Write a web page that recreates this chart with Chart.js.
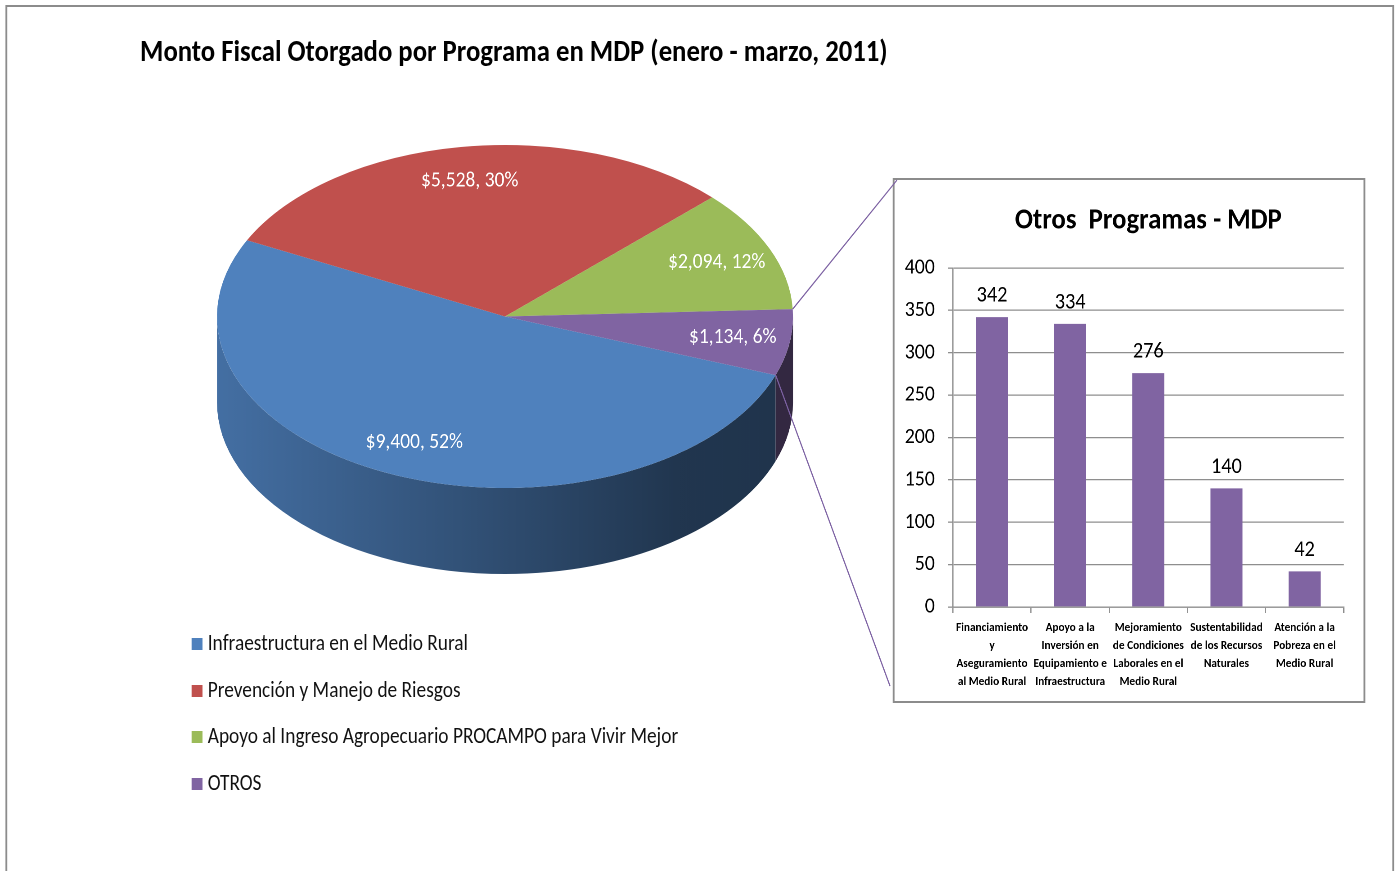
<!DOCTYPE html>
<html>
<head>
<meta charset="utf-8">
<script src="https://cdn.jsdelivr.net/npm/chart.js@4.4.0/dist/chart.umd.min.js"></script>
<style>
  html, body { margin: 0; padding: 0; background: #fff; overflow: hidden; }
  body { width: 1397px; height: 871px; position: relative; font-family: Carlito, Lato, sans-serif; }
  /* the reference is a horizontally compressed rendering; lay out wide, then compress */
  #stage { position: absolute; left: 0; top: 0; width: 1552.2px; height: 871px; transform: scaleX(0.9); transform-origin: 0 0; }
  #frame { position: absolute; left: 5.5px; top: 5px; width: 1543px; height: 900px; border: 2px solid #8c8c8c; box-sizing: border-box; }
  #title { position: absolute; left: 155.6px; top: 37px; font-size: 29.7px; line-height: 29.7px; font-weight: bold; color: #000; white-space: nowrap; }
  #pieWrap { position: absolute; left: 0; top: -20px; width: 1552.2px; height: 891px; }
  #barBox { position: absolute; left: 992.2px; top: 178px; width: 524.4px; height: 525px; border: 2px solid #8c8c8c; box-sizing: border-box; background: #fff; }
  #barWrap { position: absolute; left: 0; top: 0; width: 520.4px; height: 521px; }
  .li { position: absolute; left: 213.3px; font-size: 21.5px; line-height: 21.5px; color: #111; white-space: nowrap; }
  .sw { display: inline-block; width: 12px; height: 12px; margin-right: 5.5px; vertical-align: baseline; }
</style>
</head>
<body>
<div id="stage">
  <div id="frame"></div>
  <div id="title">Monto Fiscal Otorgado por Programa en MDP (enero - marzo, 2011)</div>
  <div id="legend"></div>
  <div id="barBox"><div id="barWrap"><canvas id="bar"></canvas></div></div>
  <div id="pieWrap"><canvas id="pie"></canvas></div>
</div>
<script>
// ---- data ----
const pieLabels = [
  'Infraestructura en el Medio Rural',
  'Prevención y Manejo de Riesgos',
  'Apoyo al Ingreso Agropecuario PROCAMPO para Vivir Mejor',
  'OTROS'
];
const pieValues = [9400, 5528, 2094, 1134];
const pieColors = ['#4f81bd', '#c0504d', '#9bbb59', '#8064a2'];

const barTitle = 'Otros  Programas - MDP';
const barLabels = [
  ['Financiamiento', 'y', 'Aseguramiento', 'al Medio Rural'],
  ['Apoyo a la', 'Inversión en', 'Equipamiento e', 'Infraestructura'],
  ['Mejoramiento', 'de Condiciones', 'Laborales en el', 'Medio Rural'],
  ['Sustentabilidad', 'de los Recursos', 'Naturales'],
  ['Atención a la', 'Pobreza en el', 'Medio Rural']
];
const barValues = [342, 334, 276, 140, 42];
const barColor = '#8064a2';
const yTicks = [0, 50, 100, 150, 200, 250, 300, 350, 400];

// ---- style constants ----
const FONT = "Carlito, Lato, sans-serif";
const TILT = 0.536;     // vertical squash of pie top face
const DEPTH = 86;       // thickness of pie side
const LINK_TOP = [996.7, 200];
const LINK_BOTTOM = [988.9, 706];
const LEGEND_BASE = 651, LEGEND_STEP = 46.7;

Chart.defaults.font.family = FONT;
Chart.defaults.color = '#000';

// legend (HTML)
const legendEl = document.getElementById('legend');
pieLabels.forEach((l, i) => {
  const row = document.createElement('div');
  row.className = 'li';
  row.style.top = (LEGEND_BASE + LEGEND_STEP * i - 18.1) + 'px';
  row.innerHTML = '<span class="sw" style="background:' + pieColors[i] + '"></span>' + l;
  legendEl.appendChild(row);
});

function shade(hex, f) {
  const n = parseInt(hex.slice(1), 16);
  const r = Math.round(((n >> 16) & 255) * f), g = Math.round(((n >> 8) & 255) * f), b = Math.round((n & 255) * f);
  return 'rgb(' + r + ',' + g + ',' + b + ')';
}

const pie3d = {
  id: 'pie3d',
  beforeDatasetsDraw(chart) {
    const meta = chart.getDatasetMeta(0);
    const a0 = meta.data[0];
    const cx = a0.x, cy = a0.y, r = a0.outerRadius, ry = r * TILT;
    const ctx = chart.ctx;
    ctx.save();
    meta.data.forEach((a, i) => {
      const s = a.startAngle, e = a.endAngle;
      for (let k = -1; k <= 2; k++) {
        const lo = Math.max(s, 2 * Math.PI * k), hi = Math.min(e, 2 * Math.PI * k + Math.PI);
        if (hi <= lo) continue;
        const g = ctx.createLinearGradient(cx - r, 0, cx + r, 0);
        g.addColorStop(0, shade(pieColors[i], 0.86));
        g.addColorStop(0.45, shade(pieColors[i], 0.62));
        g.addColorStop(0.8, shade(pieColors[i], 0.42));
        g.addColorStop(1, shade(pieColors[i], 0.4));
        ctx.beginPath();
        ctx.ellipse(cx, cy, r, ry, 0, lo, hi, false);
        ctx.lineTo(cx + r * Math.cos(hi), cy + DEPTH + ry * Math.sin(hi));
        ctx.ellipse(cx, cy + DEPTH, r, ry, 0, hi, lo, true);
        ctx.closePath();
        ctx.fillStyle = g;
        ctx.fill();
      }
    });
    ctx.translate(cx, cy);
    ctx.scale(1, TILT);
    ctx.translate(-cx, -cy);
  },
  afterDatasetsDraw(chart) {
    const ctx = chart.ctx;
    ctx.restore();
    const meta = chart.getDatasetMeta(0);
    const a0 = meta.data[0];
    const cx = a0.x, cy = a0.y, r = a0.outerRadius, ry = r * TILT;
    const total = pieValues.reduce((p, c) => p + c, 0);
    ctx.save();
    ctx.font = '21.7px ' + FONT;
    ctx.fillStyle = '#fff';
    ctx.textAlign = 'center';
    ctx.textBaseline = 'middle';
    meta.data.forEach((a, i) => {
      const m = (a.startAngle + a.endAngle) / 2;
      const x = cx + 0.8 * r * Math.cos(m), y = cy + 0.8 * ry * Math.sin(m);
      const txt = '$' + pieValues[i].toLocaleString('en-US') + ', ' + Math.round(pieValues[i] / total * 100) + '%';
      ctx.fillText(txt, x, y);
    });
    const o = meta.data[meta.data.length - 1];
    ctx.strokeStyle = '#7d62a3';
    ctx.lineWidth = 1.3;
    ctx.beginPath();
    ctx.moveTo(cx + r * Math.cos(o.startAngle), cy + ry * Math.sin(o.startAngle));
    ctx.lineTo(LINK_TOP[0], LINK_TOP[1]);
    ctx.moveTo(cx + r * Math.cos(o.endAngle), cy + ry * Math.sin(o.endAngle));
    ctx.lineTo(LINK_BOTTOM[0], LINK_BOTTOM[1]);
    ctx.stroke();
    ctx.restore();
  }
};

new Chart(document.getElementById('pie'), {
  type: 'pie',
  data: {
    labels: pieLabels,
    datasets: [{ data: pieValues, backgroundColor: pieColors, borderWidth: 0, hoverOffset: 0, offset: 0, clip: false }]
  },
  options: {
    responsive: true,
    maintainAspectRatio: false,
    devicePixelRatio: 2,
    animation: false,
    events: [],
    rotation: 110,
    radius: 320,
    layout: { padding: { left: 241.1, top: 16.5, right: 671.1, bottom: 234.5 } },
    plugins: { legend: { display: false }, tooltip: { enabled: false }, title: { display: false } }
  },
  plugins: [pie3d]
});

// value labels above bars + title centred over the plot area
const barExtras = {
  id: 'barExtras',
  afterDatasetsDraw(chart) {
    const ctx = chart.ctx;
    const meta = chart.getDatasetMeta(0);
    ctx.save();
    ctx.font = '22.5px ' + FONT;
    ctx.fillStyle = '#000';
    ctx.textAlign = 'center';
    ctx.textBaseline = 'alphabetic';
    meta.data.forEach((b, i) => ctx.fillText(String(barValues[i]), b.x, b.y - 15.5));
    const ca = chart.chartArea;
    ctx.font = 'bold 29.7px ' + FONT;
    ctx.textBaseline = 'middle';
    ctx.fillText(barTitle, (ca.left + ca.right) / 2, 41);
    ctx.restore();
  }
};

new Chart(document.getElementById('bar'), {
  type: 'bar',
  data: {
    labels: barLabels,
    datasets: [{ data: barValues, backgroundColor: barColor, barPercentage: 0.41, categoryPercentage: 1 }]
  },
  options: {
    responsive: true,
    maintainAspectRatio: false,
    devicePixelRatio: 2,
    animation: false,
    events: [],
    layout: { padding: { left: 0, right: 22.4, top: 88, bottom: 0 } },
    plugins: {
      legend: { display: false },
      tooltip: { enabled: false },
      title: { display: false }
    },
    scales: {
      y: {
        min: 0, max: 400,
        afterBuildTicks: (s) => { s.ticks = yTicks.map(v => ({ value: v })); },
        afterFit: (s) => { s.width = 64.7; },
        ticks: { font: { size: 22, family: FONT }, color: '#000', padding: 14.5 },
        grid: { color: '#8e8e8e', lineWidth: 1.3, tickLength: 5.5, drawTicks: true },
        border: { display: true, color: '#8e8e8e', width: 1.3 }
      },
      x: {
        afterFit: (s) => { s.height = 94; },
        ticks: { font: { size: 12.5, weight: 'bold', family: FONT, lineHeight: 1.44 }, color: '#000', padding: 6, maxRotation: 0, minRotation: 0, autoSkip: false },
        grid: { offset: true, drawOnChartArea: false, color: '#8e8e8e', lineWidth: 1.3, tickLength: 6 },
        border: { display: true, color: '#8e8e8e', width: 1.3 }
      }
    }
  },
  plugins: [barExtras]
});
</script>
</body>
</html>
